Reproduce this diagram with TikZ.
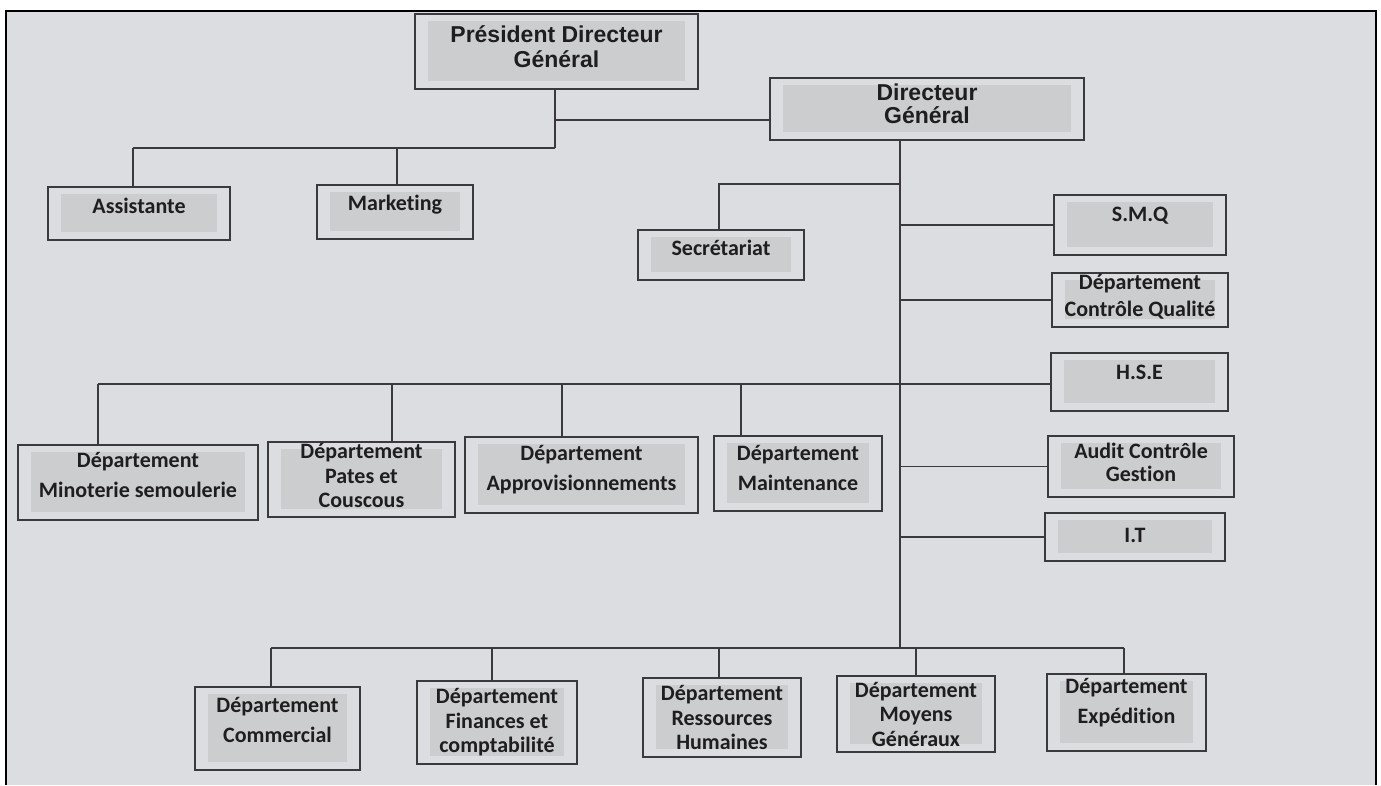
\documentclass[tikz,border=0pt]{standalone}
\usepackage{fontspec}
\setmainfont{Carlito}[Ligatures=NoCommon]
\newfontfamily\headfont{Liberation Sans}
\definecolor{pagebg}{RGB}{220,221,224}
\definecolor{shadec}{RGB}{204,205,207}
\definecolor{linec}{RGB}{58,58,60}
\definecolor{inkc}{RGB}{30,30,32}
\tikzset{
  orgbox/.style={draw=linec, line width=1.4pt, fill=pagebg, rectangle,
    inner sep=0pt, align=center, text=inkc,
    font=\bfseries\fontsize{22}{30}\selectfont,
    path picture={\fill[shadec]
      ([xshift=13pt,yshift=8pt]path picture bounding box.south west) rectangle
      ([xshift=-13pt,yshift=-7pt]path picture bounding box.north east);}},
  tri/.style={font=\bfseries\fontsize{22}{24.5}\selectfont},
  headbox/.style={orgbox, font=\headfont\bfseries\fontsize{23}{25}\selectfont},
  link/.style={draw=linec, line width=1.3pt},
}
\begin{document}
\begin{tikzpicture}[x=1pt,y=-1pt]
\useasboundingbox (0,0) rectangle (1381,785);
\fill[white] (0,0) rectangle (1381,785);
\fill[pagebg] (6,11) rectangle (1376,785);
\draw[black, line width=2.2pt] (6,785) -- (6,11) -- (1376,11) -- (1376,785);

% top management
\node[headbox, minimum width=283pt, minimum height=75pt, text depth=10pt] (pdg) at (556.5,51.5) {Président Directeur\\Général};
\node[headbox, minimum width=314pt, minimum height=62pt, text depth=10pt, font=\headfont\bfseries\fontsize{23}{23}\selectfont] (dg) at (927,109) {Directeur\\Général};
\node[orgbox, minimum width=182pt, minimum height=53pt, text depth=16pt] (assist) at (139,213.5) {Assistante};
\node[orgbox, minimum width=156pt, minimum height=54pt, text depth=18pt] (mkt) at (395,212) {Marketing};
\node[orgbox, minimum width=166pt, minimum height=50pt, text depth=14pt] (secr) at (721,255) {Secrétariat};

% staff column on the right
\node[orgbox, minimum width=172pt, minimum height=60pt, text depth=22pt] (smq) at (1140,225) {S.M.Q};
\node[orgbox, minimum width=176pt, minimum height=54pt, text depth=9pt, font=\bfseries\fontsize{22}{27}\selectfont] (cq) at (1140,300) {Département\\Contrôle Qualité};
\node[orgbox, minimum width=177pt, minimum height=58pt, text depth=20pt] (hse) at (1139.5,382) {H.S.E};
\node[orgbox, minimum width=186pt, minimum height=61pt, text depth=8pt, font=\bfseries\fontsize{22}{23}\selectfont] (audit) at (1141,466.5) {Audit Contrôle\\Gestion};
\node[orgbox, minimum width=180pt, minimum height=48pt, text depth=4pt] (it) at (1135,537) {I.T};

% production departments
\node[orgbox, minimum width=240pt, minimum height=75pt, text depth=16pt] (mino) at (138,482.5) {Département\\Minoterie semoulerie};
\node[orgbox, tri, minimum width=187pt, minimum height=75pt, text depth=8pt] (pates) at (361.5,479.5) {Département\\Pates et\\Couscous};
\node[orgbox, minimum width=233pt, minimum height=76pt, text depth=15pt] (appro) at (581.5,475) {Département\\Approvisionnements};
\node[orgbox, minimum width=168pt, minimum height=75pt, text depth=12pt] (maint) at (798,473.5) {Département\\Maintenance};

% support departments
\node[orgbox, minimum width=165pt, minimum height=83pt, text depth=18pt] (comm) at (277.5,728.5) {Département\\Commercial};
\node[orgbox, tri, minimum width=160pt, minimum height=83pt] (fin) at (497,722.5) {Département\\Finances et\\comptabilité};
\node[orgbox, tri, minimum width=158pt, minimum height=79pt] (rh) at (722,717.5) {Département\\Ressources\\Humaines};
\node[orgbox, tri, minimum width=158pt, minimum height=76pt] (moy) at (916,714) {Département\\Moyens\\Généraux};
\node[orgbox, minimum width=159pt, minimum height=77pt, text depth=24pt] (exp) at (1126.5,712.5) {Département\\Expédition};

% junction points
\coordinate (pj) at (555,148);
\coordinate (dgj) at (555,120);
\coordinate (trunk) at (900,648);
\coordinate (sj) at (900,184);
\coordinate (d1) at (98,384);
\coordinate (d2) at (392,384);
\coordinate (d3) at (562,384);
\coordinate (d4) at (741,384);
\coordinate (s1) at (719,184);
\coordinate (a1) at (133,148);
\coordinate (m1) at (397,148);
\coordinate (b1) at (271,648);
\coordinate (b2) at (492,648);
\coordinate (b3) at (719,648);
\coordinate (b4) at (916,648);
\coordinate (b5) at (1124,648);

% president branch
\draw[link] (pdg.south -| pj) -- (pj);
\draw[link] (dgj) -- (dgj -| dg.west);
\draw[link] (a1) -- (m1) -- (pj);
\draw[link] (a1) -- (a1 |- assist.north);
\draw[link] (m1) -- (m1 |- mkt.north);

% director branch
\draw[link] (dg.south -| trunk) -- (trunk);
\draw[link] (sj) -- (s1) -- (s1 |- secr.north);
\draw[link] (trunk |- smq.west) -- (smq.west);
\draw[link] (trunk |- cq.west) -- (cq.west);
\draw[link] (d1) -- (d1 -| hse.west);
\draw[link] (trunk |- audit.west) -- (audit.west);
\draw[link] (trunk |- it.west) -- (it.west);
\draw[link] (d1) -- (d1 |- mino.north);
\draw[link] (d2) -- (d2 |- pates.north);
\draw[link] (d3) -- (d3 |- appro.north);
\draw[link] (d4) -- (d4 |- maint.north);
\draw[link] (b1) -- (b5);
\draw[link] (b1) -- (b1 |- comm.north);
\draw[link] (b2) -- (b2 |- fin.north);
\draw[link] (b3) -- (b3 |- rh.north);
\draw[link] (b4) -- (b4 |- moy.north);
\draw[link] (b5) -- (b5 |- exp.north);
\end{tikzpicture}
\end{document}
